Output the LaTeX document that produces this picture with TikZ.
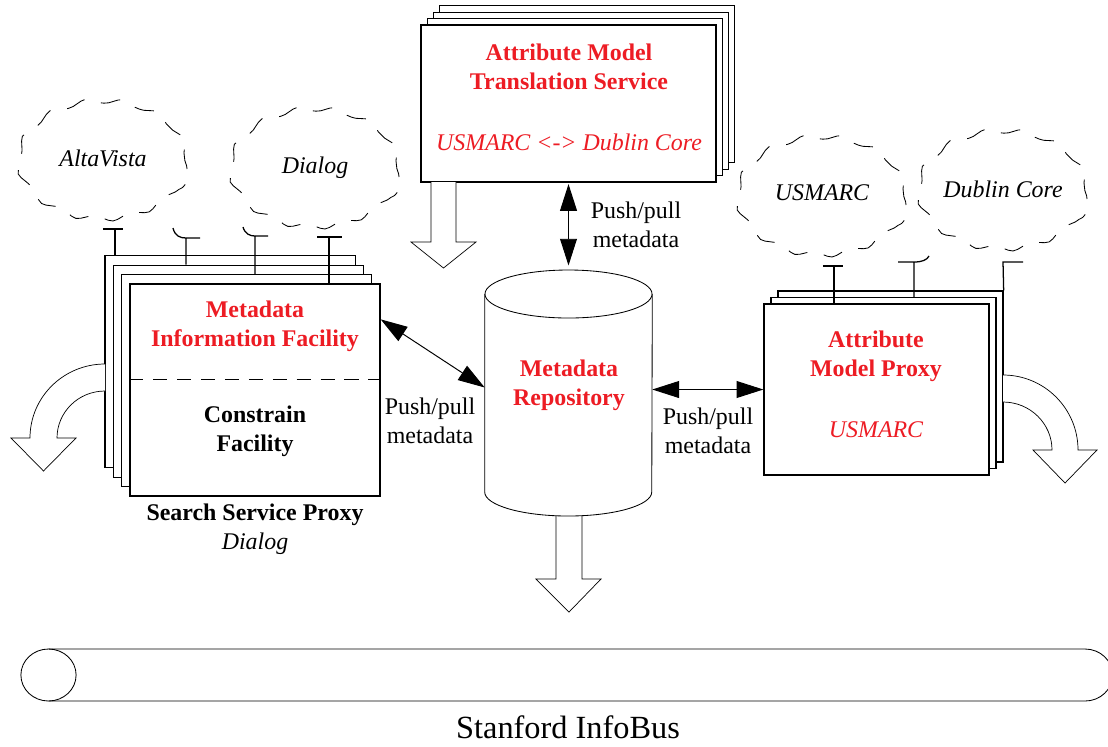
\documentclass[tikz,border=0pt]{standalone}
\usepackage{fontspec}
\setmainfont{Liberation Serif}
\usetikzlibrary{arrows.meta, positioning, shapes.geometric, decorations.pathmorphing, calc}
\definecolor{mif-red}{RGB}{237,28,36}

\begin{document}
\begin{tikzpicture}[
  x=0.025cm, y=-0.025cm,
  font=\fontsize{17}{20.5}\selectfont,
  pane/.style={rectangle,draw,fill=white,line width=0.9pt,inner sep=0pt},
  boldtext/.style={align=center,font=\fontsize{17}{20.5}\selectfont\bfseries},
  redtitle/.style={boldtext,text=mif-red},
  redital/.style={align=center,font=\fontsize{17}{20.5}\selectfont\itshape,text=mif-red},
  blob/.style={ellipse,draw,decorate,decoration={snake,segment length=26pt,amplitude=1.8pt},
               dash pattern=on 14pt off 12pt,minimum width=4.2cm,minimum height=2.95cm,
               inner sep=0pt,line width=0.6pt},
  blobtext/.style={font=\fontsize{17}{20.5}\selectfont\itshape},
  dbl/.style={{Triangle[length=19pt,width=12pt]}-{Triangle[length=19pt,width=12pt]},line width=0.7pt},
  fat/.style={draw,fill=white,line width=0.5pt},
  plug/.style={line width=0.9pt}
]
  \useasboundingbox (0,0) rectangle (1108,746);

  % clouds
  \node[blob] (alta)   at (103,169)  {};
  \node[blob] (dialog) at (315,177)  {};
  \node[blob] (usmarc) at (822,205)  {};
  \node[blob] (dublin) at (1003,199) {};
  \node[blobtext] (altaname)   at ([yshift=0.27cm]alta.center)   {AltaVista};
  \node[blobtext] (dialogname) at ([yshift=0.22cm]dialog.center) {Dialog};
  \node[blobtext] (usmname)    at ([yshift=0.3cm]usmarc.center)  {USMARC};
  \node[blobtext] (dubname)    at ([yshift=0.25cm]dublin.center) {Dublin Core};

  % search service proxy stack
  \foreach \i in {3,2,1}
    \node[pane,minimum width=6.25cm,minimum height=5.3cm] (search\i) at ($(255,390)+\i*(-8.3,-9.4)$) {};
  \node[pane,minimum width=6.25cm,minimum height=5.3cm] (search) at (255,390) {};
  \draw[dash pattern=on 10pt off 7pt,line width=0.8pt]
    ([yshift=-2.4cm]search.north west) -- ([yshift=-2.4cm]search.north east);
  \node[redtitle] (mif) at (255,326) {Metadata\\Information Facility};
  \node[boldtext] (cf)  at (255,431) {Constrain\\Facility};
  \node[align=center] (ssp) at (255,529) {\textbf{Search Service Proxy}\\\textit{Dialog}};

  % attribute model proxy stack
  \foreach \i in {2,1}
    \node[pane,minimum width=5.625cm,minimum height=4.275cm] (proxy\i) at ($(876.5,389.5)+\i*(7,-6.5)$) {};
  \node[pane,minimum width=5.625cm,minimum height=4.275cm] (proxy) at (876.5,389.5) {};
  \node[redtitle] (amp) at (876,356) {Attribute\\Model Proxy};
  \node[redital]  (ampm) at (876,430) {USMARC};

  % translation service stack
  \foreach \i in {3,2,1}
    \node[pane,minimum width=7.375cm,minimum height=3.925cm] (trans\i) at ($(568.5,103.5)+\i*(6.2,-6.4)$) {};
  \node[pane,minimum width=7.375cm,minimum height=3.925cm] (trans) at (568.5,103.5) {};
  \node[redtitle] (amts) at (569,67)  {Attribute Model\\Translation Service};
  \node[redital]  (amtm) at (569,142) {USMARC <-> Dublin Core};

  % plugs from the clouds
  \coordinate (pa) at (115,229);
  \coordinate (pb) at (186,238);
  \coordinate (pc) at (255,236);
  \coordinate (pd) at (329,237);
  \coordinate (pe) at (834,266);
  \coordinate (pf) at (914,262);
  \coordinate (pg) at (1003,262);
  \draw[plug] ([xshift=-0.3cm]pa) -- ([xshift=0.2cm]pa) (pa) -- (pa |- search3.north);
  \draw[plug] (173,228) .. controls (175,236) and (180,238) .. (pb) -- ([xshift=0.35cm]pb)
              (pb) -- (pb |- search2.north);
  \draw[plug] (243,227) .. controls (245,234) and (250,236) .. (pc) -- ([xshift=0.33cm]pc)
              (pc) -- (pc |- search1.north);
  \draw[plug] ([xshift=-0.3cm]pd) -- ([xshift=0.33cm]pd) (pd) -- (pd |- search.north);
  \draw[plug] ([xshift=-0.28cm]pe) -- ([xshift=0.23cm]pe) (pe) -- (pe |- proxy.north);
  \draw[plug] ([xshift=-0.4cm]pf) -- (pf) .. controls (922,262) and (927,260) .. (929,256)
              (pf) -- (pf |- proxy1.north);
  \draw[plug] ([xshift=0.5cm]pg) -- (pg) -- (proxy2.north east);

  % block arrows
  \draw[fat] (431,182) -- (431,242) -- (411,242) -- (443.5,268) -- (476,242) -- (456,242) -- (456,182);
  \draw[fat] (556,510) -- (556,579) -- (536,579) -- (569,612) -- (601,579) -- (582,579) -- (582,510);
  \draw[fat] (105,364) .. controls (63.6,364) and (30,397) .. (30,438) -- (11,438) -- (43.5,471)
             -- (76,438) -- (57,438) .. controls (57,412) and (78.5,391) .. (105,391);
  \draw[fat] (1003,375) .. controls (1044.4,375) and (1078,408.6) .. (1078,450) -- (1097,450)
             -- (1065,483) -- (1033,450) -- (1052,450) .. controls (1052,423.5) and (1030,402) .. (1003,402);

  % repository
  \node[minimum width=4.175cm,minimum height=6.175cm,inner sep=0pt] (repo) at (568.5,393.5) {};
  \draw[fill=white,line width=0.6pt] (repo.west |- 0,294) -- (repo.west |- 0,492)
    arc[start angle=180,end angle=360,x radius=2.0875cm,y radius=0.6cm]
    -- (repo.east |- 0,294);
  \draw[fill=white,line width=0.6pt] (568.5,294) ellipse[x radius=2.0875cm,y radius=0.6cm];
  \node[redtitle] (repotext) at (569,385) {Metadata\\Repository};

  % push/pull
  \draw[dbl,shorten >=3pt,shorten <=1pt] (trans.south) -- (repo.north);
  \draw[dbl] ([yshift=-0.9cm]search.north east) -- ([yshift=0.15cm]repo.west);
  \draw[dbl] (repo.east |- proxy.west) -- (proxy.west);
  \node[align=center] (pp1) at (636,225) {Push/pull\\metadata};
  \node[align=center] (pp2) at (430,421) {Push/pull\\metadata};
  \node[align=center] (pp3) at (708,431) {Push/pull\\metadata};

  % infobus
  \draw[line width=0.6pt] (48.5,649) -- (1085,649)
    arc[start angle=90,end angle=-90,x radius=0.69cm,y radius=0.65cm] -- (48.5,701);
  \draw[line width=0.6pt] (48.5,675) ellipse[x radius=0.69cm,y radius=0.65cm];
  \node[font=\fontsize{23}{27}\selectfont] (bus) at (568,727) {Stanford InfoBus};
\end{tikzpicture}
\end{document}
